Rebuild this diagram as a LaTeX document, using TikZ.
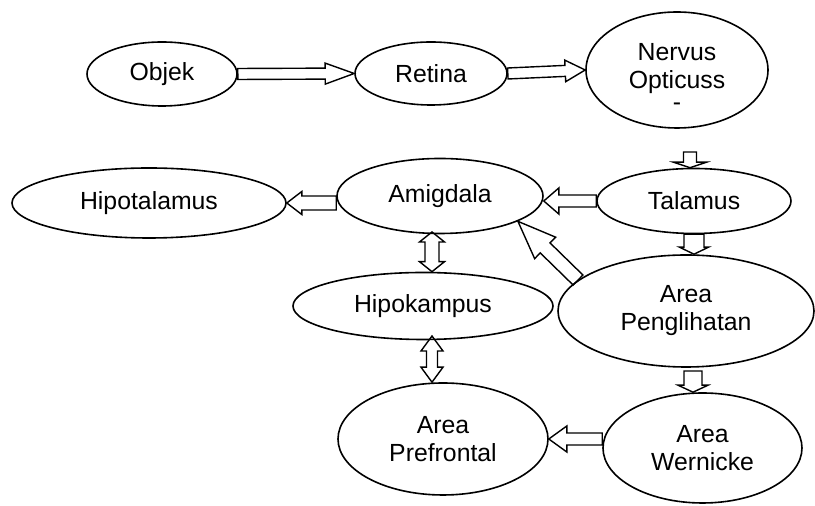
\documentclass[tikz,border=0pt]{standalone}
\usepackage{fontspec}
\setmainfont{Liberation Sans}
\usepackage{tikz}
\usetikzlibrary{shapes.geometric,calc,positioning}
\tikzset
{
	oval/.style = {ellipse, draw=black, line width=0.8pt, align=center, inner sep=0pt, font=\fontsize{12.4}{14}\selectfont},
	blk/.style args = {#1/#2/#3}{draw=black, line width=0.7pt, line join=miter,
		to path={let \p1=(\tikztostart), \p2=(\tikztotarget), \n1={atan2(\y2-\y1,\x2-\x1)}, \n2={veclen(\x2-\x1,\y2-\y1)} in
			{[shift={(\p1)}, rotate=\n1] (0pt,-#1) -- (\n2*1pt-#3,-#1) -- (\n2*1pt-#3,-#2) -- (\n2*1pt,0pt) -- (\n2*1pt-#3,#2) -- (\n2*1pt-#3,#1) -- (0pt,#1) -- cycle}}},
	dblk/.style args = {#1/#2/#3}{draw=black, line width=0.7pt, line join=miter,
		to path={let \p1=(\tikztostart), \p2=(\tikztotarget), \n1={atan2(\y2-\y1,\x2-\x1)}, \n2={veclen(\x2-\x1,\y2-\y1)} in
			{[shift={(\p1)}, rotate=\n1] (0pt,0pt) -- (#3,-#2) -- (#3,-#1) -- (\n2*1pt-#3,-#1) -- (\n2*1pt-#3,-#2) -- (\n2*1pt,0pt) -- (\n2*1pt-#3,#2) -- (\n2*1pt-#3,#1) -- (#3,#1) -- (#3,#2) -- cycle}}}
}

\begin{document}
\begin{tikzpicture}[x=0.5pt, y=-0.5pt]
\useasboundingbox (0,0) rectangle (815,506);

\node[oval, minimum width=75pt, minimum height=32pt] (objek) at (162,74) {Objek};
\node[oval, minimum width=76pt, minimum height=31.5pt] (retina) at (431,73.5) {Retina};
\node[oval, minimum width=91pt, minimum height=58pt] (nervus) at (677,70) {\rule{0pt}{16pt}Nervus\\Opticuss\\[-3pt]-};
\node[oval, minimum width=137pt, minimum height=35pt] (hipot) at (149,203) {Hipotalamus};
\node[oval, minimum width=103pt, minimum height=37.5pt] (amig) at (440,196) {Amigdala};
\node[oval, minimum width=97pt, minimum height=32.5pt] (talamus) at (694,201) {Talamus};
\node[oval, minimum width=130pt, minimum height=33.5pt] (hipok) at (423,306) {Hipokampus};
\node[oval, minimum width=128pt, minimum height=56pt] (peng) at (686,311) {Area\\Penglihatan};
\node[oval, minimum width=105pt, minimum height=56pt] (pref) at (443,439) {Area\\Prefrontal};
\node[oval, minimum width=99.5pt, minimum height=55pt] (wern) at (702.5,448) {Area\\Wernicke};

\coordinate (nt) at (690,152);
\coordinate (pw) at (693,371);
\coordinate (ah) at (432,232);
\coordinate (hp) at (432,336);

\draw[blk=2.75pt/5.25pt/14.5pt] (objek.east) to (retina.west);
\draw[blk=2.75pt/5.4pt/10pt] (retina.east) to (nervus.west);
\draw[blk=3.25pt/8.25pt/2.75pt] (nt) to (nt |- talamus.north);
\draw[blk=3pt/6.5pt/7.5pt] (talamus.west) to (talamus.west -| amig.east);
\draw[blk=3.5pt/5.75pt/7.5pt] (amig.west |- hipot.east) to (hipot.east);
\draw[blk=5pt/7.25pt/3.5pt] (talamus.south) to (talamus.south |- peng.north);
\draw[blk=3.5pt/7.5pt/19pt] (peng.164) to (amig.-18);
\draw[blk=4.5pt/7.5pt/3.5pt] (pw) to (pw |- wern.north);
\draw[blk=3pt/6.5pt/9pt] (wern.west |- pref.east) to (pref.east);
\draw[dblk=3.5pt/6.25pt/5pt] (ah) to (ah |- hipok.north);
\draw[dblk=2.75pt/5.5pt/7.5pt] (hp) to (hp |- pref.north);
\end{tikzpicture}
\end{document}
